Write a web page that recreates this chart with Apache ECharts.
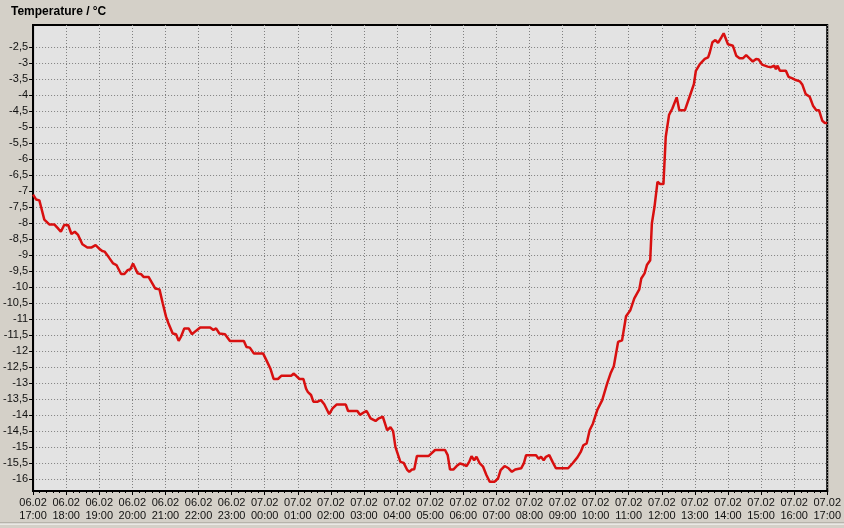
<!DOCTYPE html>
<html>
<head>
<meta charset="utf-8">
<script src="https://cdn.jsdelivr.net/npm/echarts@6/dist/echarts.min.js"></script>
<style>
html,body{margin:0;padding:0;background:#d4d0c8;}
#chart{width:844px;height:528px;}
</style>
</head>
<body>
<div id="chart"></div>
<script>
// hours elapsed since 06.02 17:00
var timeHours = [0,0.09,0.19,0.24,0.34,0.49,0.64,0.74,0.84,0.94,1.06,1.16,1.26,1.36,1.49,1.64,1.77,1.89,1.99,2.09,2.16,2.29,2.42,2.52,2.66,2.76,2.86,2.94,3.02,3.06,3.16,3.27,3.34,3.49,3.59,3.69,3.82,3.92,4.02,4.09,4.22,4.32,4.40,4.47,4.57,4.70,4.80,4.93,5.05,5.35,5.45,5.53,5.63,5.80,5.95,6.37,6.45,6.55,6.67,6.95,7.05,7.17,7.27,7.40,7.50,7.80,7.87,7.95,8.05,8.17,8.25,8.30,8.40,8.47,8.60,8.70,8.80,8.95,9.05,9.17,9.45,9.52,9.80,9.88,10.00,10.08,10.20,10.35,10.45,10.57,10.70,10.80,10.88,10.95,11.10,11.20,11.30,11.37,11.45,11.52,11.60,11.95,11.97,12.15,12.45,12.53,12.60,12.70,12.80,12.90,13.00,13.10,13.18,13.25,13.33,13.40,13.50,13.60,13.70,13.80,13.95,14.05,14.13,14.25,14.37,14.47,14.57,14.75,14.83,14.90,15.20,15.28,15.35,15.43,15.50,15.60,15.70,15.80,16.17,16.30,16.45,16.55,16.63,16.73,16.82,16.92,17.05,17.20,17.35,17.45,17.55,17.68,17.80,17.92,18.05,18.17,18.32,18.38,18.48,18.55,18.65,18.70,18.78,18.87,18.95,19.05,19.12,19.22,19.32,19.45,19.53,19.70,19.85,19.97,20.03,20.15,20.30,20.40,20.45,20.53,20.62,20.70,20.80,20.87,20.93,21.00,21.05,21.15,21.25,21.35,21.45,21.55,21.65,21.75,21.85,21.93,22.03,22.20,22.30,22.40,22.45,22.50,22.57,22.75,22.83,22.95,23.05,23.17,23.25,23.35,23.47,23.57,23.67,23.75,23.85,23.93,24.00];
var temperature = [-7.12,-7.27,-7.30,-7.50,-7.90,-8.05,-8.05,-8.16,-8.28,-8.07,-8.07,-8.35,-8.28,-8.38,-8.67,-8.77,-8.77,-8.70,-8.80,-8.88,-8.90,-9.08,-9.27,-9.32,-9.60,-9.60,-9.48,-9.45,-9.27,-9.30,-9.58,-9.61,-9.69,-9.69,-9.87,-10.05,-10.08,-10.52,-10.94,-11.14,-11.46,-11.48,-11.69,-11.56,-11.30,-11.30,-11.48,-11.37,-11.27,-11.27,-11.35,-11.30,-11.46,-11.48,-11.69,-11.69,-11.88,-11.90,-12.08,-12.08,-12.29,-12.55,-12.88,-12.88,-12.78,-12.78,-12.71,-12.78,-12.88,-12.88,-13.18,-13.28,-13.38,-13.59,-13.59,-13.54,-13.67,-13.98,-13.80,-13.68,-13.68,-13.88,-13.88,-14.00,-13.92,-13.88,-14.11,-14.19,-14.11,-14.06,-14.48,-14.39,-14.51,-15.00,-15.47,-15.50,-15.71,-15.78,-15.71,-15.70,-15.29,-15.29,-15.23,-15.10,-15.10,-15.26,-15.71,-15.71,-15.60,-15.52,-15.55,-15.60,-15.47,-15.29,-15.42,-15.31,-15.52,-15.62,-15.88,-16.09,-16.09,-15.99,-15.73,-15.60,-15.67,-15.78,-15.71,-15.67,-15.52,-15.26,-15.26,-15.37,-15.31,-15.42,-15.31,-15.26,-15.47,-15.67,-15.67,-15.52,-15.33,-15.16,-14.95,-14.89,-14.48,-14.27,-13.85,-13.54,-13.02,-12.71,-12.48,-11.72,-11.67,-10.92,-10.73,-10.36,-10.08,-9.74,-9.58,-9.32,-9.17,-8.02,-7.50,-6.72,-6.79,-6.79,-5.31,-4.63,-4.43,-4.08,-4.48,-4.48,-4.03,-3.67,-3.25,-3.04,-2.88,-2.83,-2.68,-2.36,-2.29,-2.38,-2.21,-2.08,-2.08,-2.42,-2.40,-2.47,-2.78,-2.86,-2.86,-2.76,-2.86,-2.96,-2.88,-2.90,-3.06,-3.12,-3.14,-3.09,-3.20,-3.09,-3.25,-3.25,-3.44,-3.49,-3.54,-3.58,-3.69,-3.98,-4.06,-4.34,-4.48,-4.48,-4.81,-4.88,-4.88];
var dayLabels = ['06.02','06.02','06.02','06.02','06.02','06.02','06.02','07.02','07.02','07.02','07.02','07.02','07.02','07.02','07.02','07.02','07.02','07.02','07.02','07.02','07.02','07.02','07.02','07.02','07.02'];
var hourLabels = ['17:00','18:00','19:00','20:00','21:00','22:00','23:00','00:00','01:00','02:00','03:00','04:00','05:00','06:00','07:00','08:00','09:00','10:00','11:00','12:00','13:00','14:00','15:00','16:00','17:00'];
var yTicks = [-2.5,-3,-3.5,-4,-4.5,-5,-5.5,-6,-6.5,-7,-7.5,-8,-8.5,-9,-9.5,-10,-10.5,-11,-11.5,-12,-12.5,-13,-13.5,-14,-14.5,-15,-15.5,-16];
var yMin = -16.38, yMax = -1.82;
var titleText = 'Temperature / °C';

var points = timeHours.map(function (h, i) { return [h, temperature[i]]; });
var chart = echarts.init(document.getElementById('chart'), null, {renderer: 'canvas'});
var font = 'Liberation Sans, Arial, sans-serif';
chart.setOption({
  backgroundColor: '#d4d0c8',
  animation: false,
  title: {
    text: titleText, left: 11, top: 6, padding: 0,
    textStyle: {fontFamily: font, fontSize: 12, fontWeight: 'bold', color: '#000'}
  },
  grid: {
    left: 30, right: 14, top: 25, bottom: 37,
    show: true, backgroundColor: '#e3e3e3', borderColor: '#000', borderWidth: 2
  },
  xAxis: {
    type: 'value', min: 0, max: 24, interval: 1,
    axisLine: {show: true, lineStyle: {color: '#000', width: 2}},
    axisTick: {show: true, length: 4, lineStyle: {color: '#000'}},
    minorTick: {show: true, splitNumber: 5, length: 2, lineStyle: {color: '#000'}},
    splitLine: {show: true, lineStyle: {color: '#808080', width: 1, type: [1, 2]}},
    axisLabel: {
      margin: 5, interval: 0, fontFamily: font, fontSize: 11, color: '#111', lineHeight: 13,
      formatter: function (v) { var i = Math.round(v); return dayLabels[i] + '\n' + hourLabels[i]; }
    }
  },
  yAxis: {
    type: 'value', min: yMin, max: yMax,
    axisLine: {show: true, lineStyle: {color: '#000', width: 2}},
    axisTick: {show: true, length: 4, customValues: yTicks, lineStyle: {color: '#000'}},
    splitLine: {show: true, lineStyle: {color: '#808080', width: 1, type: [1, 2]}},
    axisLabel: {
      margin: 5, customValues: yTicks, fontFamily: font, fontSize: 11, color: '#111',
      formatter: function (v) { return String(v).replace('.', ','); }
    }
  },
  graphic: [
    {type: 'line', shape: {x1: 0, y1: 523, x2: 844, y2: 523}, style: {stroke: '#9a978f', lineWidth: 1}, silent: true},
    {type: 'line', shape: {x1: 0, y1: 524, x2: 844, y2: 524}, style: {stroke: '#ffffff', lineWidth: 1}, silent: true}
  ],
  series: [{
    type: 'line', data: points, showSymbol: false, symbol: 'none',
    lineStyle: {color: '#d81010', width: 2.5}, clip: true
  }]
});
</script>
</body>
</html>
